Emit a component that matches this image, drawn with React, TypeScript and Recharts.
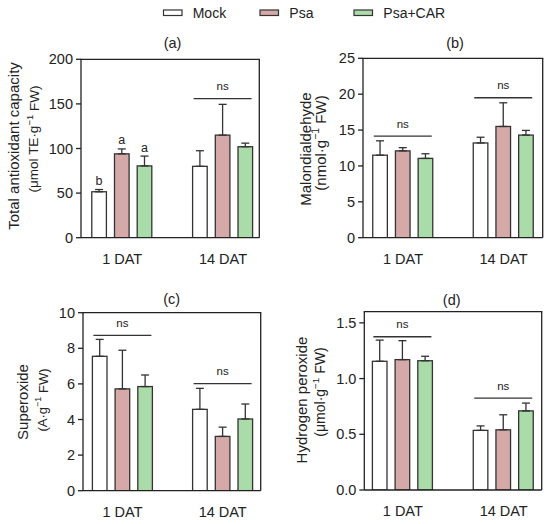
import React from 'react';
import { BarChart, Bar, XAxis, YAxis, ErrorBar } from 'recharts';

const FONT = '"Liberation Sans", Arial, Helvetica, sans-serif';
const INK = '#222222';
const BAR_STROKE = '#333333';

const categories = ['1 DAT', '14 DAT'];
const treatments = ['Mock', 'Psa', 'Psa+CAR'];
const treatmentFills = ['#ffffff', '#d6a9a9', '#a9dca8'];

// (a) Total antioxidant capacity
const tacMock = [51.5, 80];
const tacMockErr = [2.5, 17.5];
const tacPsa = [94, 115];
const tacPsaErr = [5.5, 34.5];
const tacCar = [80.5, 102];
const tacCarErr = [11, 4];
const tacMockLetter = ['b', ''];
const tacPsaLetter = ['a', ''];
const tacCarLetter = ['a', ''];
const tacNs = [null, 156];
const tacTicks = [0, 50, 100, 150, 200];

// (b) Malondialdehyde
const mdaMock = [11.5, 13.2];
const mdaMockErr = [2.0, 0.8];
const mdaPsa = [12.1, 15.5];
const mdaPsaErr = [0.45, 3.3];
const mdaCar = [11.05, 14.3];
const mdaCarErr = [0.65, 0.65];
const mdaNs = [14.15, 19.5];
const mdaTicks = [0, 5, 10, 15, 20, 25];

// (c) Superoxide
const supMock = [7.55, 4.57];
const supMockErr = [0.95, 1.18];
const supPsa = [5.72, 3.05];
const supPsaErr = [2.17, 0.52];
const supCar = [5.85, 4.03];
const supCarErr = [0.65, 0.84];
const supNs = [8.73, 6.01];
const supTicks = [0, 2, 4, 6, 8, 10];

// (d) Hydrogen peroxide
const hpMock = [1.155, 0.535];
const hpMockErr = [0.19, 0.04];
const hpPsa = [1.17, 0.54];
const hpPsaErr = [0.17, 0.135];
const hpCar = [1.16, 0.71];
const hpCarErr = [0.04, 0.07];
const hpNs = [1.375, 0.824];
const hpTicks = [0, 0.5, 1.0, 1.5];

const noLetters = ['', ''];

function buildRows(
  mock: number[], mockErr: number[], psa: number[], psaErr: number[],
  car: number[], carErr: number[], ns: (number | null)[],
  mockL: string[] = noLetters, psaL: string[] = noLetters, carL: string[] = noLetters,
) {
  return categories.map((cat, i) => ({
    cat,
    mock: mock[i], psa: psa[i], car: car[i],
    mockE: mockErr[i], psaE: psaErr[i], carE: carErr[i],
    mockErr: [0, mockErr[i]], psaErr: [0, psaErr[i]], carErr: [0, carErr[i]],
    mockL: mockL[i], psaL: psaL[i], carL: carL[i],
    ns: ns[i],
  }));
}

const BAR_SIZE = 14.6;
const BAR_GAP = 8.1;
const Y_AXIS_W = 40;
const X_AXIS_H = 30;

const makeShape = (key: 'mock' | 'psa' | 'car') => (props: any) => {
  const { x, y, width, height, fill, payload } = props;
  const value = payload[key];
  const err = payload[key + 'E'];
  const k = value ? height / value : 0;
  const base = y + height;
  const capY = base - (value + err) * k;
  const letter = payload[key + 'L'];
  const items: any[] = [
    <rect key="r" x={x} y={y} width={width} height={height} fill={fill} stroke={BAR_STROKE} strokeWidth={1.3} />,
  ];
  if (letter) {
    items.push(
      <text key="l" x={x + width / 2} y={capY - 4.5} textAnchor="middle" fontSize={12.5} fill={INK} fontFamily={FONT}>
        {letter}
      </text>,
    );
  }
  if (key === 'psa' && payload.ns != null) {
    const ly = base - payload.ns * k;
    const x1 = x - BAR_GAP - width + 1;
    const x2 = x + width * 2 + BAR_GAP - 1;
    items.push(<line key="ns" x1={x1} x2={x2} y1={ly} y2={ly} stroke="#333" strokeWidth={1.3} />);
    items.push(
      <text key="nst" x={(x1 + x2) / 2} y={ly - 8.6} textAnchor="middle" fontSize={11.5} fill={INK} fontFamily={FONT}>
        ns
      </text>,
    );
  }
  return <g>{items}</g>;
};

const panels = [
  {
    id: 'a', left: 0, top: 0, w: 275, h: 270,
    margin: { top: 59.3, right: 15.7, left: 41, bottom: 2.3 },
    pad: { left: -9.2, right: -14.1 },
    rows: buildRows(tacMock, tacMockErr, tacPsa, tacPsaErr, tacCar, tacCarErr, tacNs, tacMockLetter, tacPsaLetter, tacCarLetter),
    domain: [0, 200], ticks: tacTicks, fmt: (v: number) => String(v),
  },
  {
    id: 'b', left: 275, top: 0, w: 275, h: 270,
    margin: { top: 58.3, right: 7.3, left: 48, bottom: 2.3 },
    pad: { left: -10.25, right: -11.05 },
    rows: buildRows(mdaMock, mdaMockErr, mdaPsa, mdaPsaErr, mdaCar, mdaCarErr, mdaNs),
    domain: [0, 25], ticks: mdaTicks, fmt: (v: number) => String(v),
  },
  {
    id: 'c', left: 0, top: 270, w: 275, h: 254,
    margin: { top: 42.7, right: 14.3, left: 43, bottom: 3.3 },
    pad: { left: -10.6, right: -12.1 },
    rows: buildRows(supMock, supMockErr, supPsa, supPsaErr, supCar, supCarErr, supNs),
    domain: [0, 10], ticks: supTicks, fmt: (v: number) => String(v),
  },
  {
    id: 'd', left: 275, top: 270, w: 275, h: 254,
    margin: { top: 41.7, right: 8.3, left: 49.3, bottom: 4 },
    pad: { left: -11.9, right: -12.4 },
    rows: buildRows(hpMock, hpMockErr, hpPsa, hpPsaErr, hpCar, hpCarErr, hpNs),
    domain: [0, 1.6], ticks: hpTicks, fmt: (v: number) => v.toFixed(1),
  },
];

const titles = [
  { t: '(a)', x: 172.5, y: 48 },
  { t: '(b)', x: 455, y: 48 },
  { t: '(c)', x: 171.7, y: 304 },
  { t: '(d)', x: 451.7, y: 305 },
];

const yLabels = [
  { main: 'Total antioxidant capacity', sub: 'μmol TE·g', mx: 13.5, my: 146, sx: 33.5, sy: 139, sf: 13.5 },
  { main: 'Malondialdehyde', sub: 'nmol·g', mx: 305, my: 149, sx: 320, sy: 143, sf: 15 },
  { main: 'Superoxide', sub: 'A·g', mx: 22.5, my: 402, sx: 42.5, sy: 400, sf: 13 },
  { main: 'Hydrogen peroxide', sub: 'μmol·g', mx: 301, my: 400, sx: 320, sy: 392, sf: 14 },
];

const legendPos = [
  { bx: 163.5, tx: 192.7 },
  { bx: 260, tx: 289.3 },
  { bx: 354, tx: 383.3 },
];

const axisLine = { stroke: INK, strokeWidth: 1.3 };
const tickStyle = { fontSize: 14.5, fill: INK, fontFamily: FONT };

function plotRect(p: any) {
  return {
    x1: p.left + p.margin.left + Y_AXIS_W,
    x2: p.left + p.w - p.margin.right,
    y1: p.top + p.margin.top,
    y2: p.top + p.h - p.margin.bottom - X_AXIS_H,
  };
}

function Panel({ p }: { p: any }) {
  return (
    <div style={{ position: 'absolute', left: p.left, top: p.top }}>
      <BarChart width={p.w} height={p.h} data={p.rows} margin={p.margin} barSize={BAR_SIZE} barGap={BAR_GAP}>
        <XAxis
          dataKey="cat"
          tickLine={false}
          tickSize={0}
          tickMargin={16}
          height={X_AXIS_H}
          axisLine={axisLine}
          tick={tickStyle}
          padding={p.pad}
          interval={0}
        />
        <YAxis
          type="number"
          domain={p.domain}
          ticks={p.ticks}
          interval={0}
          width={Y_AXIS_W}
          tickSize={5}
          tickMargin={3}
          axisLine={axisLine}
          tickLine={axisLine}
          tick={tickStyle}
          tickFormatter={p.fmt}
          allowDataOverflow
        />
        <Bar dataKey="mock" fill={treatmentFills[0]} isAnimationActive={false} shape={makeShape('mock')}>
          <ErrorBar dataKey="mockErr" width={4} stroke={BAR_STROKE} strokeWidth={1.3} direction="y" />
        </Bar>
        <Bar dataKey="psa" fill={treatmentFills[1]} isAnimationActive={false} shape={makeShape('psa')}>
          <ErrorBar dataKey="psaErr" width={4} stroke={BAR_STROKE} strokeWidth={1.3} direction="y" />
        </Bar>
        <Bar dataKey="car" fill={treatmentFills[2]} isAnimationActive={false} shape={makeShape('car')}>
          <ErrorBar dataKey="carErr" width={4} stroke={BAR_STROKE} strokeWidth={1.3} direction="y" />
        </Bar>
      </BarChart>
    </div>
  );
}

export default function App() {
  return (
    <div style={{ position: 'absolute', left: 0, top: 0, width: 550, height: 524, background: '#fff', fontFamily: FONT }}>
      {panels.map((p) => (
        <Panel key={p.id} p={p} />
      ))}
      <svg width={550} height={524} style={{ position: 'absolute', left: 0, top: 0, pointerEvents: 'none' }} fontFamily={FONT}>
        {panels.map((p) => {
          const r = plotRect(p);
          return (
            <g key={'f' + p.id} stroke={INK} strokeWidth={1.3} fill="none">
              <line x1={r.x1 - 0.65} x2={r.x2 + 0.65} y1={r.y1} y2={r.y1} />
              <line x1={r.x2} x2={r.x2} y1={r.y1} y2={r.y2} />
            </g>
          );
        })}
        {treatments.map((t, i) => (
          <g key={t}>
            <rect x={legendPos[i].bx} y={10} width={18.5} height={5.5} fill={treatmentFills[i]} stroke={BAR_STROKE} strokeWidth={1.2} />
            <text x={legendPos[i].tx} y={18} fontSize={14} fill={INK}>{t}</text>
          </g>
        ))}
        {titles.map((t) => (
          <text key={t.t} x={t.x} y={t.y} textAnchor="middle" fontSize={14.5} fill={INK}>{t.t}</text>
        ))}
        {yLabels.map((l) => (
          <g key={l.main}>
            <text
              x={l.mx} y={l.my} textAnchor="middle" dominantBaseline="central" fontSize={15} fill={INK}
              transform={`rotate(-90 ${l.mx} ${l.my})`}
            >
              {l.main}
            </text>
            <text
              x={l.sx} y={l.sy} textAnchor="middle" dominantBaseline="central" fontSize={l.sf} fill={INK}
              transform={`rotate(-90 ${l.sx} ${l.sy})`}
            >
              {'(' + l.sub}
              <tspan fontSize={l.sf * 0.7} dy={-l.sf * 0.35}>−1</tspan>
              <tspan dy={l.sf * 0.35}>{' FW)'}</tspan>
            </text>
          </g>
        ))}
      </svg>
    </div>
  );
}
